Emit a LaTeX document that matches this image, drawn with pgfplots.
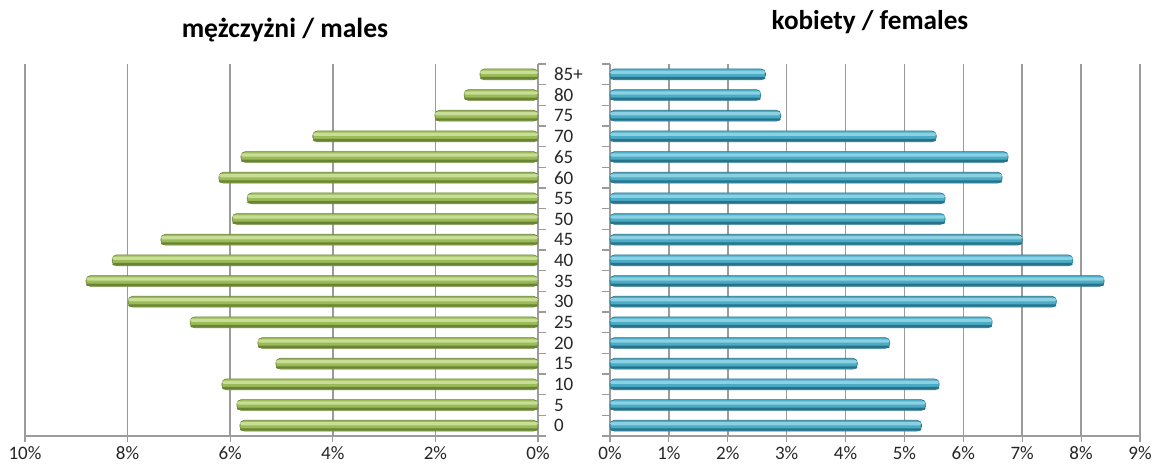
\documentclass[border=0pt]{standalone}
\usepackage{pgfplots}
\pgfplotsset{compat=1.18}
\usepackage{fontspec}
\setmainfont{Carlito}
\definecolor{gridgray}{RGB}{155,155,155}
\definecolor{gtop}{RGB}{200,222,150}
\definecolor{gmid}{RGB}{155,187,89}
\definecolor{gbot}{RGB}{105,132,52}
\definecolor{btop}{RGB}{140,208,228}
\definecolor{bmid}{RGB}{75,172,198}
\definecolor{bbot}{RGB}{40,115,138}

% men (negative = left side)
\pgfplotstableread{
age val
0 -5.81
1 -5.87
2 -6.16
3 -5.11
4 -5.46
5 -6.78
6 -7.99
7 -8.81
8 -8.30
9 -7.35
10 -5.96
11 -5.67
12 -6.22
13 -5.79
14 -4.39
15 -2.01
16 -1.44
17 -1.13
}\males

\pgfplotstableread{
age val
0 5.29
1 5.36
2 5.59
3 4.20
4 4.75
5 6.49
6 7.58
7 8.39
8 7.86
9 7.00
10 5.69
11 5.69
12 6.66
13 6.76
14 5.54
15 2.90
16 2.56
17 2.64
}\females

\begin{document}
\begin{tikzpicture}
\path[use as bounding box] (0,0) rectangle (579pt,232.5pt);
\pgfplotsset{
  pyr/.style={
    scale only axis,
    height=186pt,
    ymin=-0.5, ymax=17.5,
    ytick={0,...,17},
    minor ytick={-0.5,0.5,...,17.5},
    major y tick style={draw=none},
    minor y tick style={gridgray, line width=0.6pt},
    minor tick length=4pt,
    xmajorgrids,
    grid style={gridgray, line width=0.75pt},
    axis line style={gridgray, line width=0.75pt},
    x tick style={gridgray, line width=0.6pt},
    major tick length=3pt,
    tick align=outside,
    ticklabel style={font=\fontsize{9.5}{11}\selectfont, text=black!85},
    xticklabel style={anchor=base, yshift=-9pt},
    axis x line*=bottom,
    xbar, bar shift=0pt,
    clip=false,
  },
  % three stacked strips give each bar its cylinder look
  body/.style={bar width=5.4pt, bar shift=0pt, rounded corners=2.2pt, line width=0.3pt},
  shine/.style={bar width=1.6pt, bar shift=1.0pt, draw=none, rounded corners=0.8pt},
  shade/.style={bar width=1.2pt, bar shift=-1.9pt, draw=none, rounded corners=0.6pt},
}

\begin{axis}[pyr,
  anchor=south west, at={(12.5pt,14.5pt)},
  width=256.5pt,
  xmin=-10, xmax=0,
  xtick={-10,-8,...,0},
  xticklabels={10\%,8\%,6\%,4\%,2\%,0\%},
  axis y line*=right,
  yticklabel pos=right,
  yticklabels={0,5,10,15,20,25,30,35,40,45,50,55,60,65,70,75,80,85+},
  yticklabel style={anchor=west, xshift=1.5pt},
]
\addplot[body, draw=gbot, fill=gmid] table[x=val, y=age] {\males};
\addplot[shine, fill=gtop] table[x=val, y=age] {\males};
\addplot[shade, fill=gbot] table[x=val, y=age] {\males};
\end{axis}

\begin{axis}[pyr,
  anchor=south west, at={(305pt,14.5pt)},
  width=265pt,
  xmin=0, xmax=9,
  xtick={0,...,9},
  xticklabels={0\%,1\%,2\%,3\%,4\%,5\%,6\%,7\%,8\%,9\%},
  axis y line*=left,
  yticklabels={},
]
\addplot[body, draw=bbot, fill=bmid] table[x=val, y=age] {\females};
\addplot[shine, fill=btop] table[x=val, y=age] {\females};
\addplot[shade, fill=bbot] table[x=val, y=age] {\females};
\end{axis}

\node[font=\fontsize{13.8}{16}\selectfont\bfseries] at (142.5pt,217.5pt) {mężczyżni / males};
\node[font=\fontsize{13.6}{16}\selectfont\bfseries] at (435pt,221.5pt) {kobiety / females};
\end{tikzpicture}
\end{document}
